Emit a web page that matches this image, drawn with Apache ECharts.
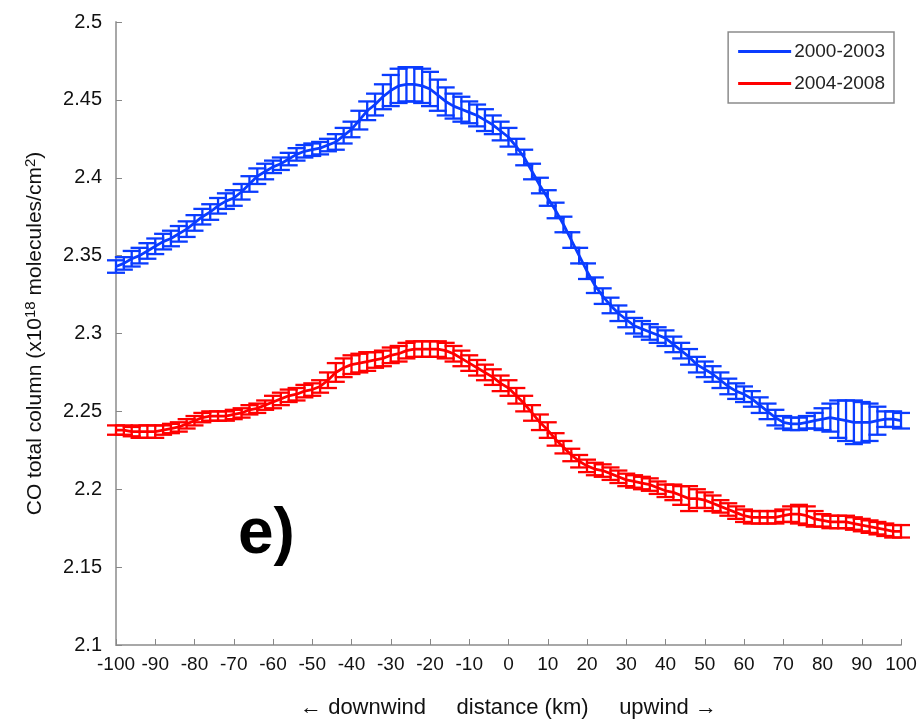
<!DOCTYPE html>
<html>
<head>
<meta charset="utf-8">
<script src="https://cdn.jsdelivr.net/npm/echarts@6/dist/echarts.min.js"></script>
<style>html,body{margin:0;padding:0;background:#fff;}#c{width:923px;height:726px;}</style>
</head>
<body>
<div id="c"></div>
<script>
// distance (km) from -100 to 100, 2 km steps
const distance = [-100,-98,-96,-94,-92,-90,-88,-86,-84,-82,-80,-78,-76,-74,-72,-70,-68,-66,-64,-62,-60,-58,-56,-54,-52,-50,-48,-46,-44,-42,-40,-38,-36,-34,-32,-30,-28,-26,-24,-22,-20,-18,-16,-14,-12,-10,-8,-6,-4,-2,0,2,4,6,8,10,12,14,16,18,20,22,24,26,28,30,32,34,36,38,40,42,44,46,48,50,52,54,56,58,60,62,64,66,68,70,72,74,76,78,80,82,84,86,88,90,92,94,96,98,100];

const blueValues = [2.343,2.345,2.348,2.350,2.353,2.356,2.359,2.361,2.364,2.367,2.371,2.375,2.378,2.382,2.385,2.387,2.391,2.396,2.401,2.404,2.407,2.409,2.412,2.415,2.417,2.418,2.419,2.421,2.423,2.427,2.431,2.437,2.443,2.447,2.452,2.456,2.459,2.460,2.460,2.459,2.457,2.453,2.449,2.446,2.444,2.442,2.440,2.437,2.434,2.430,2.426,2.420,2.413,2.404,2.395,2.387,2.379,2.370,2.360,2.350,2.340,2.331,2.324,2.318,2.313,2.309,2.305,2.303,2.301,2.299,2.297,2.293,2.289,2.285,2.280,2.277,2.274,2.270,2.266,2.263,2.261,2.258,2.254,2.250,2.246,2.243,2.242,2.242,2.243,2.244,2.245,2.246,2.245,2.244,2.243,2.243,2.243,2.244,2.245,2.245,2.244];
const blueErrors = [0.004,0.004,0.005,0.005,0.005,0.005,0.005,0.005,0.005,0.005,0.005,0.005,0.005,0.005,0.005,0.005,0.005,0.005,0.005,0.005,0.004,0.004,0.004,0.004,0.004,0.004,0.004,0.004,0.005,0.005,0.005,0.006,0.006,0.007,0.008,0.010,0.011,0.011,0.011,0.011,0.011,0.010,0.009,0.008,0.008,0.007,0.007,0.007,0.006,0.006,0.006,0.005,0.005,0.005,0.005,0.005,0.005,0.005,0.005,0.005,0.005,0.005,0.005,0.005,0.005,0.005,0.005,0.005,0.005,0.005,0.005,0.005,0.005,0.005,0.005,0.005,0.005,0.005,0.005,0.005,0.005,0.005,0.005,0.005,0.005,0.004,0.004,0.004,0.004,0.005,0.007,0.009,0.012,0.013,0.014,0.013,0.012,0.009,0.005,0.005,0.005];

const redValues = [2.238,2.238,2.237,2.237,2.237,2.237,2.238,2.239,2.240,2.242,2.244,2.246,2.247,2.247,2.247,2.248,2.249,2.251,2.252,2.254,2.256,2.258,2.260,2.261,2.263,2.264,2.266,2.270,2.275,2.278,2.280,2.281,2.282,2.283,2.284,2.286,2.287,2.289,2.290,2.290,2.290,2.290,2.289,2.287,2.284,2.281,2.278,2.275,2.272,2.268,2.265,2.260,2.255,2.249,2.243,2.238,2.232,2.227,2.222,2.218,2.215,2.213,2.212,2.210,2.208,2.206,2.205,2.204,2.203,2.201,2.199,2.198,2.196,2.194,2.194,2.193,2.191,2.189,2.187,2.185,2.183,2.182,2.182,2.182,2.182,2.183,2.184,2.184,2.183,2.181,2.180,2.179,2.179,2.179,2.178,2.177,2.176,2.175,2.174,2.173,2.173];
const redErrors = [0.003,0.003,0.003,0.004,0.004,0.004,0.003,0.003,0.003,0.003,0.003,0.003,0.003,0.003,0.003,0.003,0.003,0.003,0.003,0.003,0.004,0.004,0.004,0.004,0.004,0.004,0.004,0.005,0.006,0.006,0.006,0.006,0.006,0.005,0.005,0.005,0.005,0.005,0.005,0.005,0.005,0.005,0.005,0.005,0.005,0.005,0.005,0.005,0.005,0.005,0.005,0.005,0.005,0.005,0.005,0.005,0.004,0.004,0.004,0.004,0.004,0.004,0.004,0.004,0.004,0.004,0.004,0.004,0.004,0.004,0.004,0.005,0.006,0.008,0.006,0.005,0.005,0.004,0.004,0.004,0.004,0.004,0.004,0.004,0.004,0.004,0.005,0.006,0.006,0.005,0.004,0.004,0.004,0.004,0.004,0.004,0.004,0.004,0.004,0.004,0.004];

const seriesNames = ['2000-2003','2004-2008'];
const blueColor = '#0a3cff';
const redColor = '#ff0000';

const chart = echarts.init(document.getElementById('c'), null, {renderer:'canvas'});

function errData(vals, errs){
  return distance.map((d,i)=>[d, vals[i], errs[i]]);
}
function lineData(vals){
  return distance.map((d,i)=>[d, vals[i]]);
}
function makeErrRender(color){
  return function(params, api){
    const x = api.value(0), v = api.value(1), e = api.value(2);
    const hi = api.coord([x, v+e]);
    const lo = api.coord([x, v-e]);
    const hw = 9;
    const st = {stroke: color, lineWidth: 2.3};
    return {type:'group', children:[
      {type:'line', shape:{x1:hi[0], y1:hi[1], x2:lo[0], y2:lo[1]}, style:st},
      {type:'line', shape:{x1:hi[0]-hw, y1:hi[1], x2:hi[0]+hw, y2:hi[1]}, style:st},
      {type:'line', shape:{x1:lo[0]-hw, y1:lo[1], x2:lo[0]+hw, y2:lo[1]}, style:st}
    ]};
  };
}

const FONT = 'Liberation Sans, Arial, sans-serif';

chart.setOption({
  animation:false,
  backgroundColor:'#fff',
  grid:{left:116, right:22, top:22, bottom:81, containLabel:false},
  legend:{
    data:[{name:seriesNames[0], icon:'rect'},{name:seriesNames[1], icon:'rect'}],
    orient:'vertical', right:29, top:32,
    borderColor:'#8c8c8c', borderWidth:1.5, borderRadius:0,
    padding:[10,9,10,10], itemGap:13, itemWidth:53, itemHeight:3,
    textStyle:{fontFamily:FONT, fontSize:19, color:'#222', padding:[0,0,0,-2]}
  },
  xAxis:{
    type:'value', min:-100, max:100, interval:10,
    axisLine:{show:true, onZero:false, lineStyle:{color:'#a8a8a8', width:2}},
    axisTick:{show:true, inside:true, length:6, lineStyle:{color:'#888', width:1}},
    splitLine:{show:false},
    axisLabel:{margin:10, fontSize:19, color:'#111', fontFamily:FONT},
    name:'\u2190 downwind     distance (km)     upwind \u2192',
    nameLocation:'middle', nameGap:52,
    nameTextStyle:{fontSize:22, color:'#111', fontFamily:FONT}
  },
  yAxis:{
    type:'value', min:2.1, max:2.5, interval:0.05,
    axisLine:{show:true, onZero:false, lineStyle:{color:'#a8a8a8', width:2}},
    axisTick:{show:true, inside:true, length:6, lineStyle:{color:'#888', width:1}},
    splitLine:{show:false},
    axisLabel:{margin:14, fontSize:20, color:'#111', fontFamily:FONT,
      formatter:function(v){return String(parseFloat(v.toFixed(2)));}},
    name:'{n|CO total column (x10}{s|18}{n| molecules/cm}{s|2}{n|)}',
    nameLocation:'middle', nameGap:68, nameRotate:90,
    nameTextStyle:{rich:{
      n:{fontSize:21, color:'#111', fontFamily:FONT},
      s:{fontSize:15, color:'#111', fontFamily:FONT, verticalAlign:'top', padding:[0,0,10,0]}
    }}
  },
  graphic:[{
    type:'text', left:238, top:503,
    style:{text:'e)', font:'bold 64px Liberation Sans, Arial, sans-serif', fill:'#000'}
  }],
  series:[
    {name:seriesNames[0], type:'line', data:lineData(blueValues), showSymbol:false, symbol:'none',
      lineStyle:{color:blueColor, width:2.8}, itemStyle:{color:blueColor}, z:3},
    {name:seriesNames[1], type:'line', data:lineData(redValues), showSymbol:false, symbol:'none',
      lineStyle:{color:redColor, width:2.8}, itemStyle:{color:redColor}, z:3},
    {name:seriesNames[0], type:'custom', data:errData(blueValues, blueErrors),
      renderItem:makeErrRender(blueColor), encode:{x:0, y:1}, z:2},
    {name:seriesNames[1], type:'custom', data:errData(redValues, redErrors),
      renderItem:makeErrRender(redColor), encode:{x:0, y:1}, z:2}
  ]
});
</script>
</body>
</html>
